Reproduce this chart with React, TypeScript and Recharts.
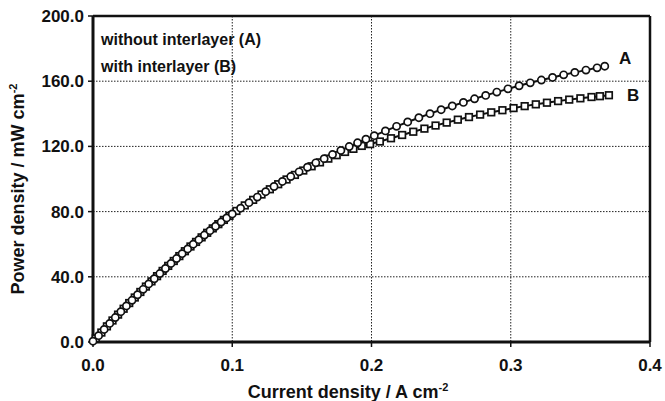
import React from 'react';
import { LineChart, Line, XAxis, YAxis, CartesianGrid, ReferenceLine } from 'recharts';

const xTicks = [0, 0.1, 0.2, 0.3, 0.4];
const yTicks = [0, 40, 80, 120, 160, 200];

const currentA = [0, 0.004, 0.008, 0.012, 0.016, 0.02, 0.024, 0.028, 0.032, 0.036, 0.04, 0.044, 0.048, 0.052, 0.056, 0.06, 0.064, 0.068, 0.072, 0.076, 0.08, 0.084, 0.088, 0.092, 0.096, 0.1,
  0.106, 0.112, 0.118, 0.124, 0.13, 0.136, 0.142, 0.148, 0.154, 0.16, 0.166, 0.172, 0.178, 0.184, 0.19, 0.196, 0.202,
  0.21, 0.218, 0.226, 0.234, 0.242, 0.25, 0.258, 0.266, 0.274, 0.282, 0.29, 0.298, 0.306, 0.314, 0.322, 0.33, 0.338, 0.346, 0.354, 0.362, 0.3675];
const powerA = [0.5, 3.9, 7.7, 11.4, 15.0, 18.6, 22.1, 25.6, 29.0, 32.3, 35.6, 38.8, 42.0, 45.1, 48.2, 51.2, 54.2, 57.1, 60.0, 62.8, 65.6, 68.3, 71.0, 73.6, 76.1, 78.6,
  82.1, 85.5, 88.9, 92.2, 95.4, 98.5, 101.5, 104.4, 107.2, 109.9, 112.5, 115.0, 117.5, 119.9, 122.2, 124.4, 126.6,
  129.5, 132.3, 135.0, 137.6, 140.1, 142.5, 144.8, 147.0, 149.2, 151.3, 153.3, 155.3, 157.2, 159.0, 160.7, 162.3, 163.9, 165.4, 166.8, 168.2, 169.2];

const currentB = [0.002, 0.006, 0.01, 0.014, 0.018, 0.022, 0.026, 0.03, 0.034, 0.038, 0.042, 0.046, 0.05, 0.054, 0.058, 0.062, 0.066, 0.07, 0.074, 0.078, 0.082, 0.086, 0.09, 0.094, 0.098,
  0.103, 0.109, 0.115, 0.121, 0.127, 0.133, 0.139, 0.145, 0.151, 0.157, 0.163, 0.169, 0.175, 0.181, 0.187, 0.193, 0.199,
  0.206, 0.214, 0.222, 0.23, 0.238, 0.246, 0.254, 0.262, 0.27, 0.278, 0.286, 0.294, 0.302, 0.31, 0.318, 0.326, 0.334, 0.342, 0.35, 0.358, 0.364, 0.3705];
const powerB = [2.2, 5.8, 9.6, 13.2, 16.8, 20.4, 23.9, 27.3, 30.7, 34.0, 37.2, 40.4, 43.6, 46.7, 49.7, 52.7, 55.7, 58.6, 61.4, 64.2, 67.0, 69.7, 72.3, 74.9, 77.4,
  80.4, 83.8, 87.2, 90.5, 93.7, 96.8, 99.7, 102.5, 105.2, 107.8, 110.2, 112.5, 114.6, 116.6, 118.5, 120.3, 121.4,
  123.0, 125.0, 127.0, 129.0, 130.9, 132.8, 134.6, 136.4, 138.0, 139.5, 140.9, 142.2, 143.5, 144.7, 145.8, 146.8, 147.8, 148.7, 149.5, 150.3, 150.8, 151.4];

const seriesA = currentA.map((x, i) => ({ x, y: powerA[i] }));
const seriesB = currentB.map((x, i) => ({ x, y: powerB[i] }));

const FONT = '"Liberation Sans", Arial, sans-serif';
const INK = '#111';

const SquareDot = (props: any) => {
  const { cx, cy, index } = props;
  if (cx == null || cy == null) return <g key={`sq-${index}`} />;
  return <rect key={`sq-${index}`} x={cx - 3.3} y={cy - 3.3} width={6.6} height={6.6} fill="#fff" stroke={INK} strokeWidth={1.7} />;
};

const XLabel = () => (
  <text x={348} y={398} textAnchor="middle" fontFamily={FONT} fontWeight="bold" fontSize={18} fill={INK}>
    Current density / A cm<tspan dy={-7} fontSize={11}>-2</tspan>
  </text>
);

const YLabel = () => (
  <g fontFamily={FONT} fontWeight="bold" fill={INK}>
    <text x={24} y={189} transform="rotate(-90, 24, 189)" textAnchor="middle" fontSize={18}>
      Power density / mW cm<tspan dy={-7} fontSize={11}>-2</tspan>
    </text>
    <text x={101} y={45} fontSize={16}>without interlayer (A)</text>
    <text x={101} y={72} fontSize={16}>with interlayer (B)</text>
    <text x={619} y={64} fontSize={17}>A</text>
    <text x={627} y={101} fontSize={17}>B</text>
  </g>
);

export default function App() {
  return (
    <div style={{ position: 'absolute', left: 0, top: 0, background: '#fff' }}>
      <LineChart width={665} height={401} margin={{ top: 16, right: 15, bottom: 0, left: 0 }}>
        <CartesianGrid stroke="#222" strokeDasharray="1.5 1.5" strokeWidth={1} />
        <XAxis
          dataKey="x"
          type="number"
          domain={[0, 0.4]}
          ticks={xTicks}
          allowDuplicatedCategory={false}
          height={59}
          tickFormatter={(v: number) => v.toFixed(1)}
          axisLine={{ stroke: INK, strokeWidth: 3 }}
          tickLine={{ stroke: INK, strokeWidth: 1.5 }}
          tickSize={5}
          tickMargin={12}
          tick={{ fontFamily: FONT, fontWeight: 'bold', fontSize: 17, fill: INK }}
          label={<XLabel />}
        />
        <YAxis
          dataKey="y"
          type="number"
          domain={[0, 200]}
          ticks={yTicks}
          width={93}
          tickFormatter={(v: number) => v.toFixed(1)}
          axisLine={{ stroke: INK, strokeWidth: 3 }}
          tickLine={{ stroke: INK, strokeWidth: 1.5 }}
          tickSize={5}
          tickMargin={4}
          tick={{ fontFamily: FONT, fontWeight: 'bold', fontSize: 17, fill: INK }}
          label={<YLabel />}
        />
        <ReferenceLine y={200} stroke={INK} strokeWidth={2.5} />
        <ReferenceLine x={0.4} stroke={INK} strokeWidth={2.5} />
        <Line
          data={seriesB}
          dataKey="y"
          type="linear"
          stroke={INK}
          strokeWidth={2}
          dot={SquareDot}
          isAnimationActive={false}
        />
        <Line
          data={seriesA}
          dataKey="y"
          type="linear"
          stroke={INK}
          strokeWidth={2}
          dot={{ r: 3.6, fill: '#fff', stroke: INK, strokeWidth: 1.7 }}
          isAnimationActive={false}
        />
      </LineChart>
    </div>
  );
}
